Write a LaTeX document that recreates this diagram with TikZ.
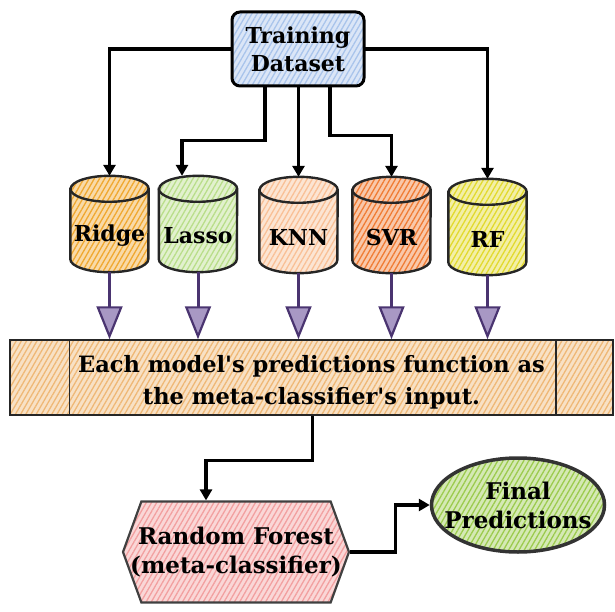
\documentclass[tikz,border=0pt]{standalone}
\usepackage{fontspec}
\setmainfont[Ligatures=TeXOff]{DejaVu Serif}
\usetikzlibrary{shapes.geometric,shapes.symbols,arrows.meta,patterns.meta,calc}
\definecolor{tdcol}{HTML}{A9C4EB}
\definecolor{ridgecol}{HTML}{F0A830}
\definecolor{lassocol}{HTML}{B9DE8A}
\definecolor{knncol}{HTML}{F9C096}
\definecolor{svrcol}{HTML}{F07C34}
\definecolor{rfcol}{HTML}{E2DA2E}
\definecolor{bandcol}{HTML}{EFB876}
\definecolor{pinkcol}{HTML}{F2A0A0}
\definecolor{greencol}{HTML}{9CCB4E}
\definecolor{purp}{HTML}{4A3470}
\definecolor{purpfill}{HTML}{A898C4}
\begin{document}
\begin{tikzpicture}[x=1pt,y=-1pt,
  hatch/.style={preaction={fill=#1!42!white}, pattern={Lines[angle=60,distance=4.5pt,line width=1.3pt]}, pattern color=#1},
  cylbox/.style={minimum width=78pt, minimum height=96pt, inner sep=0pt},
  cylline/.style={draw=black!85, line width=2.4pt},
  cyltxt/.style={font=\bfseries\fontsize{22}{26}\selectfont},
  blk/.style={draw=black, line width=3.3pt, -{Triangle[length=11pt,width=12pt]}},
  parr/.style={draw=purp, line width=3pt, -{Triangle[length=33pt,width=26pt,fill=purpfill,line width=2.2pt]}},
  txt/.style={font=\bfseries\fontsize{23}{29}\selectfont, align=center}
]
\useasboundingbox (0,0) rectangle (615,612);

\node[draw=black, line width=3pt, rounded corners=8pt, minimum width=132pt, minimum height=74pt,
  hatch=tdcol, inner sep=0pt, align=center, font=\bfseries\fontsize{22}{28}\selectfont] (td) at (298,49) {Training\\Dataset};

\foreach \n/\x/\y/\c/\t in {ridge/109.5/224/ridgecol/Ridge, lasso/198/224/lassocol/Lasso,
    knn/298.5/225/knncol/KNN, svr/391.5/225/svrcol/SVR, rfc/487.5/227/rfcol/RF} {
  \node[cylbox] (\n) at (\x,\y) {};
  \path[hatch=\c, cylline] ([yshift=-13pt]\n.north west) -- ([yshift=13pt]\n.south west)
     arc[start angle=180, end angle=360, x radius=39pt, y radius=13pt]
     -- ([yshift=-13pt]\n.north east)
     arc[start angle=0, end angle=180, x radius=39pt, y radius=13pt] -- cycle;
  \draw[cylline] ([yshift=-13pt]\n.north west)
     arc[start angle=180, end angle=360, x radius=39pt, y radius=13pt];
  \node[cyltxt] (\n-t) at ([yshift=-12pt]\n.center) {\t};
}

\node[draw=black!85, line width=1.5pt, minimum width=603pt, minimum height=75pt, hatch=bandcol,
  inner sep=0pt] (band) at (311.5,377.5) {};
\node[align=center, font=\bfseries\fontsize{22.5}{32}\selectfont] (bandtxt) at ([yshift=-5pt]band.center)
  {Each model's predictions function as\\the meta-classifier's input.};
\draw[line width=1.5pt, black!85] ([xshift=60pt]band.north west) -- ([xshift=60pt]band.south west);
\draw[line width=1.5pt, black!85] ([xshift=-58pt]band.north east) -- ([xshift=-58pt]band.south east);

\node[signal, signal to=west and east, signal pointer angle=140, minimum width=226pt, minimum height=101pt,
  draw=black!75, line width=2.2pt, hatch=pinkcol, inner sep=0pt,
  label={[txt]center:Random Forest\\(meta-classifier)}] (rfm) at (236,552) {};

\node[ellipse, minimum width=173pt, minimum height=94pt, draw=black!80, line width=3.5pt, hatch=greencol,
  inner sep=0pt, label={[txt]center:Final\\Predictions}] (fp) at (518,505) {};

% connectors from training dataset
\draw[blk] (td.west) -| (ridge.north);
\draw[blk] (td.east) -| (rfc.north);
\draw[blk] ([xshift=-33pt]td.south) -- ++(0,54) -| ([xshift=-16pt]lasso.north);
\draw[blk] (td.south -| knn.north) -- (knn.north);
\draw[blk] ([xshift=32pt]td.south) -- ++(0,49) -| (svr.north);

% purple arrows
\foreach \n in {ridge,lasso,knn,svr,rfc}
  \draw[parr] (\n.south) -- (\n.south |- band.north);

% lower part
\draw[blk] ([xshift=1pt]band.south) -- ++(0,45) -| ([xshift=-30pt]rfm.north);
\draw[blk] (rfm.east) -- ++(45,0) |- (fp.west);
\end{tikzpicture}
\end{document}
